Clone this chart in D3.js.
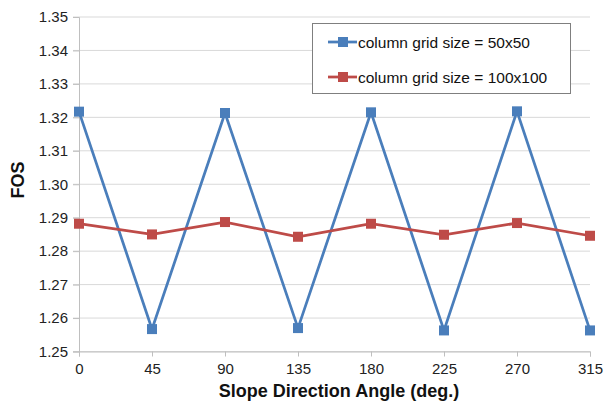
<!DOCTYPE html>
<html><head><meta charset="utf-8">
<script src="https://cdn.jsdelivr.net/npm/d3@7"></script>
<style>html,body{margin:0;padding:0;background:#fff;}svg{display:block;font-family:"Liberation Sans",Arial,sans-serif;}</style>
</head><body>
<svg id="c" width="605" height="406"></svg>
<script>
const angles = [0, 45, 90, 135, 180, 225, 270, 315];
const grid50 = [1.3217, 1.2567, 1.3213, 1.2570, 1.3215, 1.2563, 1.3218, 1.2563];
const grid100 = [1.2882, 1.2850, 1.2887, 1.2843, 1.2882, 1.2849, 1.2884, 1.2846];
const seriesNames = ["column grid size = 50x50", "column grid size = 100x100"];
const yTicks = [1.25, 1.26, 1.27, 1.28, 1.29, 1.30, 1.31, 1.32, 1.33, 1.34, 1.35];
const colors = ["#4a7ebb", "#be4b48"];

const svg = d3.select("#c");
const x = d3.scaleLinear().domain([0, 315]).range([79, 590]);
const y = d3.scaleLinear().domain([1.25, 1.35]).range([351.5, 17]);

svg.append("g").selectAll("line").data(yTicks).join("line")
  .attr("x1", 73).attr("x2", 590)
  .attr("y1", d => y(d)).attr("y2", d => y(d))
  .attr("stroke", "#d9d9d9").attr("stroke-width", 1);

const yAxis = svg.append("g").attr("transform", "translate(79,0)")
  .call(d3.axisLeft(y).tickValues(yTicks).tickFormat(d3.format(".2f")).tickSize(6).tickPadding(5));
yAxis.select(".domain").attr("stroke", "#bfbfbf");
yAxis.selectAll(".tick line").attr("stroke", "#bfbfbf");
yAxis.selectAll("text").attr("font-size", 15).attr("fill", "#222").attr("font-family", "Liberation Sans, Arial, sans-serif");

const xAxis = svg.append("g").attr("transform", "translate(0,351.5)")
  .call(d3.axisBottom(x).tickValues(angles).tickSize(5).tickPadding(7));
xAxis.select(".domain").attr("stroke", "#bfbfbf");
xAxis.selectAll(".tick line").attr("stroke", "#bfbfbf");
xAxis.selectAll("text").attr("font-size", 15).attr("fill", "#222").attr("font-family", "Liberation Sans, Arial, sans-serif");

svg.append("text").attr("x", 339).attr("y", 397).attr("text-anchor", "middle")
  .attr("font-size", 18).attr("font-weight", "bold").attr("fill", "#111").text("Slope Direction Angle (deg.)");
svg.append("text").attr("transform", "translate(24,180) rotate(-90)").attr("text-anchor", "middle")
  .attr("font-size", 18).attr("font-weight", "bold").attr("fill", "#111").text("FOS");

const allSeries = [grid50, grid100];
const line = d3.line().x((d, i) => x(angles[i])).y(d => y(d));
allSeries.forEach((s, k) => {
  svg.append("path").datum(s).attr("d", line).attr("fill", "none")
    .attr("stroke", colors[k]).attr("stroke-width", 2.75);
  svg.append("g").selectAll("rect").data(s).join("rect")
    .attr("x", (d, i) => x(angles[i]) - 5).attr("y", d => y(d) - 5)
    .attr("width", 10).attr("height", 10).attr("fill", colors[k]);
});

const lg = svg.append("g");
lg.append("rect").attr("x", 312.5).attr("y", 23.5).attr("width", 258).attr("height", 70)
  .attr("fill", "#fff").attr("stroke", "#7f7f7f").attr("stroke-width", 1);
seriesNames.forEach((n, k) => {
  const ly = 42 + k * 35;
  lg.append("line").attr("x1", 328).attr("x2", 357).attr("y1", ly).attr("y2", ly)
    .attr("stroke", colors[k]).attr("stroke-width", 2.75);
  lg.append("rect").attr("x", 338).attr("y", ly - 5).attr("width", 10).attr("height", 10).attr("fill", colors[k]);
  lg.append("text").attr("x", 358).attr("y", ly + 5.5).attr("font-size", 15.5).attr("fill", "#111").text(n);
});
</script>
</body></html>
